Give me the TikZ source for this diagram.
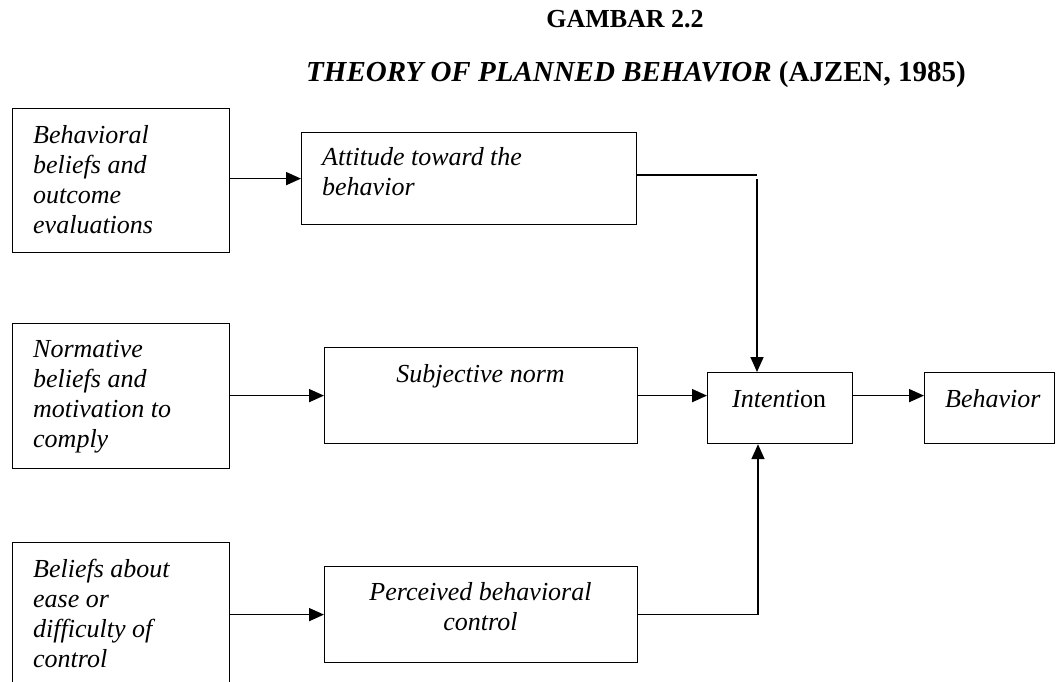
\documentclass[tikz,border=0pt]{standalone}
\usepackage{fontspec}
\setmainfont{Liberation Serif}
\usetikzlibrary{arrows.meta}
\begin{document}
\begin{tikzpicture}[x=1pt,y=-1pt,
  box/.style={draw, line width=1.2pt, inner sep=0pt, anchor=north west},
  txt/.style={anchor=base west, inner sep=0pt, font=\fontsize{26}{30}\selectfont\itshape},
  ctxt/.style={anchor=base, inner sep=0pt, font=\fontsize{26}{30}\selectfont\itshape},
  ttl/.style={anchor=base, inner sep=0pt, font=\fontsize{26}{30}\selectfont\bfseries},
  conn/.style={line width=1.7pt},
  arr/.style={conn, -{Triangle[length=15pt,width=13pt]}},
]
\clip (0,0) rectangle (1057,681);
% title
\node[ttl] (title1) at (625,27) {GAMBAR 2.2};
\node[ttl, font=\fontsize{29}{33}\selectfont\bfseries] (title2) at (636,81) {\textit{THEORY OF PLANNED BEHAVIOR} (AJZEN, 1985)};
% boxes
\node[box, minimum width=217pt, minimum height=144pt] (b1) at (12,108) {};
\node[box, minimum width=217pt, minimum height=145pt] (b2) at (12,323) {};
\node[box, minimum width=217pt, minimum height=200pt] (b3) at (12,542) {};
\node[box, minimum width=335pt, minimum height=92pt] (att) at (301,132) {};
\node[box, minimum width=313pt, minimum height=96pt] (sn) at (324,347) {};
\node[box, minimum width=313pt, minimum height=96pt] (pbc) at (324,566) {};
\node[box, minimum width=145pt, minimum height=71pt] (int) at (707,372) {};
\node[box, minimum width=130pt, minimum height=71pt] (beh) at (924,372) {};
% texts
\node[txt] (t1) at (33,143) {\parbox[t]{190pt}{\raggedright Behavioral\\beliefs and\\outcome\\evaluations}};
\node[txt] (t2) at (33,357) {\parbox[t]{190pt}{\raggedright Normative\\beliefs and\\motivation to\\comply}};
\node[txt] (t3) at (33,577) {\parbox[t]{190pt}{\raggedright Beliefs about\\ease or\\difficulty of\\control}};
\node[txt] (tatt) at (322,165) {\parbox[t]{300pt}{\raggedright Attitude toward the\\behavior}};
\node[ctxt] (tsn) at (480.5,382) {Subjective norm};
\node[ctxt] (tpbc) at (480.5,600) {\parbox[t]{300pt}{\centering Perceived behavioral\\control}};
\node[txt] (tint) at (732,407) {Intenti\textup{on}};
\node[txt] (tbeh) at (945,407) {Behavior};
% connectors
\coordinate (j1) at (757,175);
\coordinate (j1b) at (757,179);
\coordinate (j2) at (758,614);
\draw[arr] (b1.east |- att.west) -- (att.west);
\draw[arr] (b2.east |- sn.west) -- (sn.west);
\draw[arr] (b3.east |- pbc.west) -- (pbc.west);
\draw[arr] (sn.east) -- (sn.east -| int.west);
\draw[arr] (int.east |- sn.east) -- (beh.west |- sn.east);
\draw[conn] (att.east |- j1) -- (j1);
\draw[arr] (j1b) -- (j1b |- int.north);
\draw[arr] (pbc.east) -| (j2 |- int.south);
\end{tikzpicture}
\end{document}
